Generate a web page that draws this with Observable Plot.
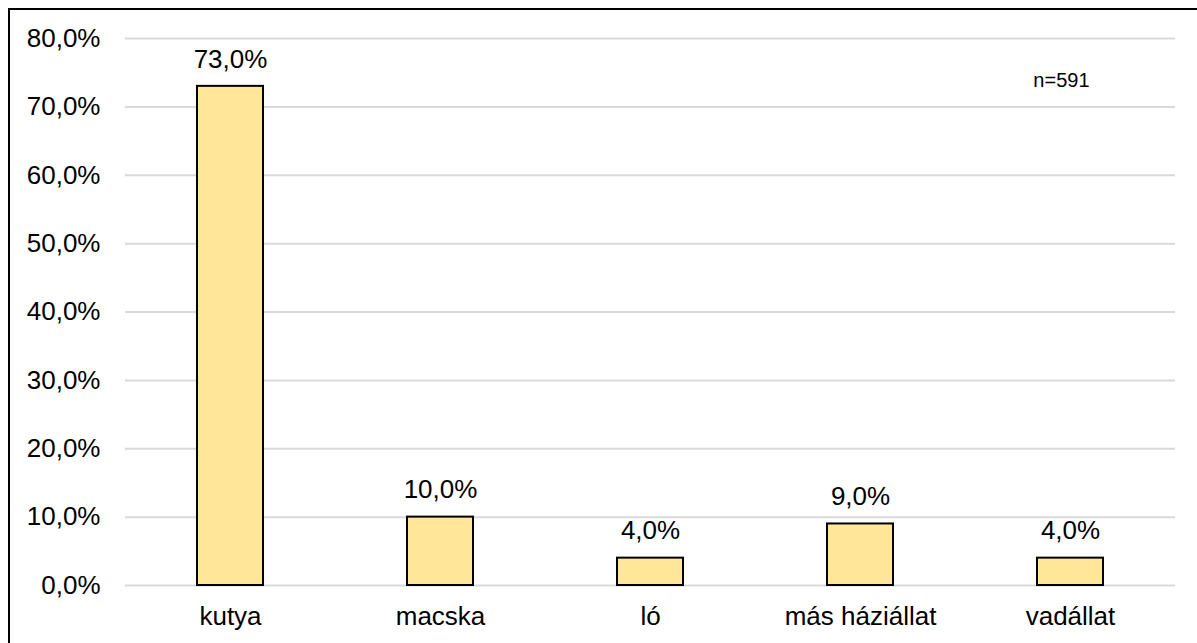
<!DOCTYPE html>
<html>
<head>
<meta charset="utf-8">
<script src="https://cdn.jsdelivr.net/npm/d3@7"></script>
<script src="https://cdn.jsdelivr.net/npm/@observablehq/plot@0.6"></script>
<style>
  html, body { margin: 0; padding: 0; background: #fff; }
  #wrap { position: relative; width: 1197px; height: 643px; overflow: hidden; }
  #frame { position: absolute; left: 8px; top: 8px; width: 1400px; height: 800px;
           border-top: 2px solid #000; border-left: 2px solid #000; pointer-events: none; }
</style>
</head>
<body>
<div id="wrap"><div id="frame"></div></div>
<script>
const categories = ["kutya", "macska", "ló", "más háziállat", "vadállat"];
const values = [73.0, 10.0, 4.0, 9.0, 4.0];
const yTicks = [0, 10, 20, 30, 40, 50, 60, 70, 80];
const note = "n=591";

const data = categories.map((c, i) => ({ category: c, value: values[i] }));
const fmt = d => d.toFixed(1).replace(".", ",") + "%";

const chart = Plot.plot({
  width: 1197,
  height: 643,
  marginLeft: 125,
  marginRight: 22,
  marginTop: 38,
  marginBottom: 58,
  style: { fontFamily: "'Liberation Sans', Arial, sans-serif", fontSize: "26px", color: "#000", background: "transparent" },
  x: { domain: categories, paddingInner: 0.686, paddingOuter: 0.343, label: null },
  y: { domain: [0, 80], label: null },
  marks: [
    Plot.ruleY(yTicks, { stroke: "#d9d9d9", strokeWidth: 2, strokeOpacity: 1 }),
    Plot.axisY({ ticks: yTicks, tickFormat: fmt, tickSize: 0, tickPadding: 25, fontSize: 26, label: null }),
    Plot.axisX({ tickSize: 0, tickPadding: 21, fontSize: 26, label: null }),
    Plot.barY(data, { x: "category", y: "value", fill: "#FFE699", stroke: "#000", strokeWidth: 2 }),
    Plot.text(data, { x: "category", y: "value", text: d => fmt(d.value), dy: -27, fontSize: 26, fill: "#000" }),
    Plot.text([note], { frameAnchor: "top-right", dx: -86, dy: 34, fontSize: 20, fill: "#000", text: d => d })
  ]
});
document.getElementById("wrap").prepend(chart);
</script>
</body>
</html>
